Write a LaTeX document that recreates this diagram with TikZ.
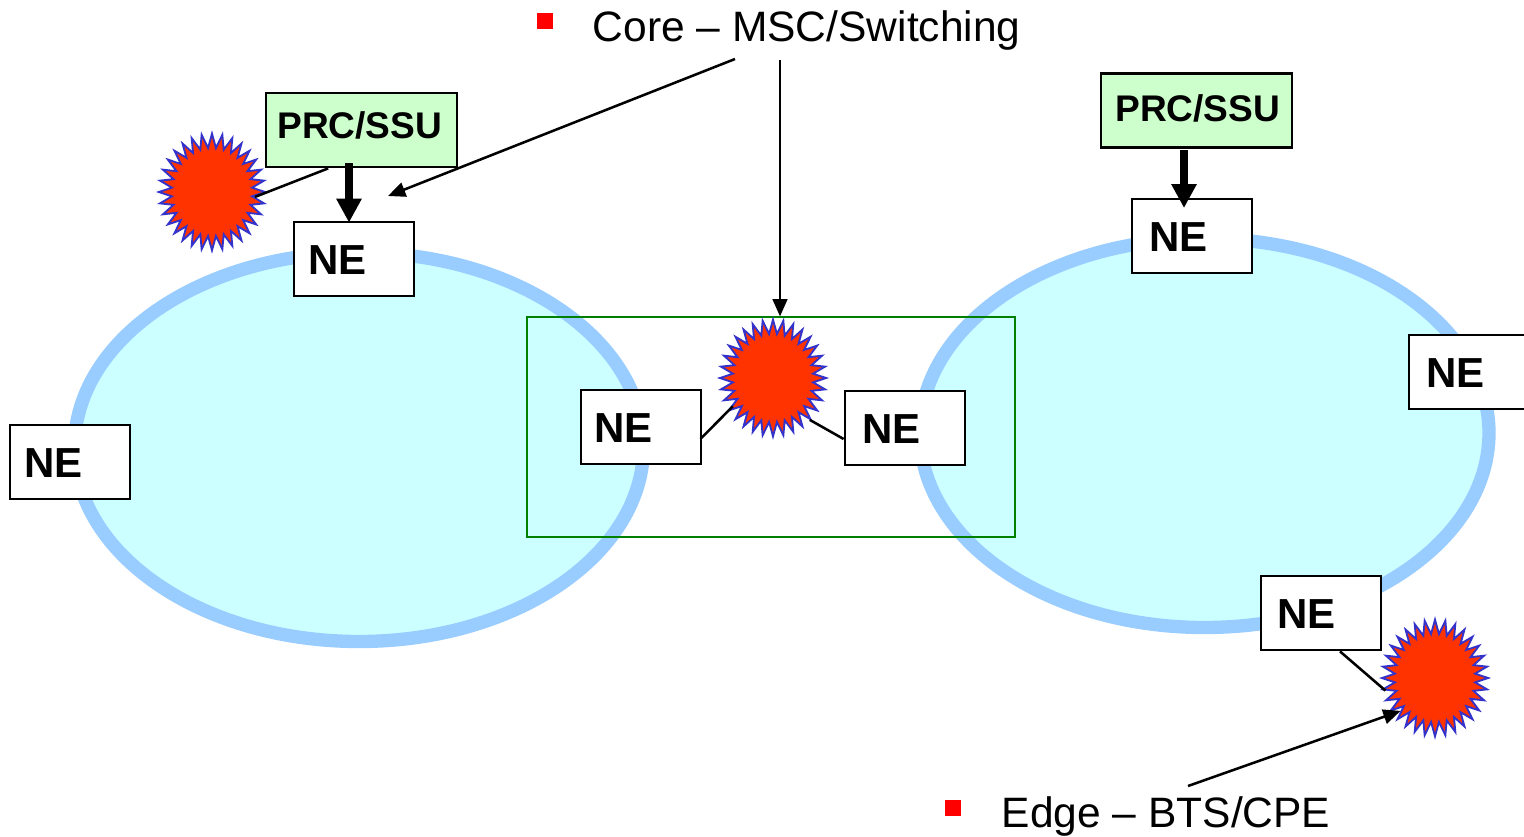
\documentclass[tikz,border=0pt]{standalone}
\usepackage{fontspec}
\setmainfont{Liberation Sans}
\usetikzlibrary{arrows.meta,shapes.geometric}
\definecolor{ringline}{HTML}{99CCFF}
\definecolor{ringfill}{HTML}{CCFFFF}
\definecolor{prcfill}{HTML}{CCFFCC}
\definecolor{burstfill}{HTML}{FF3300}
\definecolor{burstline}{HTML}{3333CC}
\definecolor{corebox}{HTML}{008000}
\begin{document}
\begin{tikzpicture}[x=0.75pt, y=-0.75pt,
    ring/.style={draw=ringline, fill=ringfill, line width=10pt},
    nebox/.style={draw, fill=white, line width=2.1pt, minimum width=90pt, minimum height=55.5pt, inner xsep=10.5pt, inner ysep=0pt, text width=69pt, text height=26pt, text depth=3.4pt, align=left, font=\fontsize{31.5pt}{36pt}\selectfont\bfseries},
    prcbox/.style={nebox, fill=prcfill, minimum width=143.25pt, inner xsep=8.5pt, text width=126.25pt, text height=20pt, font=\fontsize{27.8pt}{33pt}\selectfont\bfseries},
    burst/.style={star, star points=32, star point ratio=1.32, draw=burstline, fill=burstfill, line width=1.4pt, miter limit=10, inner sep=0pt, minimum size=87.5pt, xscale=.91, transform shape},
    bullet/.style={fill=red, inner sep=0pt, minimum size=12pt},
    caption/.style={anchor=base west, inner sep=0pt, font=\fontsize{31.9pt}{38pt}\selectfont},
    thin line/.style={line width=1.9pt},
    thin arrow/.style={line width=1.9pt, -{Triangle[length=13pt, width=11pt]}},
    fat arrow/.style={line width=5.5pt, -{Triangle[length=18pt, width=18pt]}}]
  \useasboundingbox (0, 0) rectangle (1524, 836);

  % Anillos
  \draw[ring] (359, 447) ellipse [x radius=284.5, y radius=194.5];
  \draw[ring] (1204.5, 433) ellipse [x radius=284.5, y radius=194.5];

  % Recuadro del nucleo
  \draw[corebox, line width=1.9pt] (527, 317) rectangle (1015, 537);

  % Cajas NE
  \foreach \name/\x/\y/\gap in {neA/354/259/0, neB/70/462/0, neC/641/427/-0.75, neD/905/428/2.25, neE/1192/236/2.25, neF/1469/372/2.25, neG/1321/613/1.5} {
      \node (\name) at (\x, \y) [nebox] {\hspace*{\gap pt}NE};
    }

  % Cajas PRC/SSU
  \node (prcA) at (361.5, 130) [prcbox, text depth=7.7pt] {PRC/SSU};
  \node (prcB) at (1196.5, 110.5) [prcbox, text depth=4pt] {\hspace*{2.25pt}PRC/SSU};

  % Estrellas
  \node (burstA) at (212, 192) [burst] {};
  \node (burstB) at (773, 378) [burst] {};
  \node (burstC) at (1435, 678) [burst] {};

  % Textos
  \node (bulletCore) at (545, 21) [bullet] {};
  \node (textCore) at (592.5, 41) [caption] {Core – MSC/Switching};
  \node (bulletEdge) at (953, 808) [bullet] {};
  \node (textEdge) at (1001.5, 827) [caption] {Edge – BTS/CPE};

  % Puntos libres
  \coordinate (coreLeft) at (735, 59);
  \coordinate (coreDown) at (780, 60);
  \coordinate (coreAim) at (388, 196);
  \coordinate (edgeTail) at (1188, 786);
  \coordinate (fatA) at (349, 163);
  \coordinate (fatB) at (1184, 150);
  \coordinate (fatBtip) at (1184, 208);

  % Flechas gruesas
  \draw[fat arrow, shorten >=-1.5pt] (fatA) -- (fatA |- neA.north);
  \draw[fat arrow] (fatB) -- (fatBtip);

  % Lineas
  \draw[thin line] (burstA.-6) -- ([xshift=-25pt]prcA.south);
  \draw[thin line, shorten >=-6pt] ([xshift=-1.5pt]neC.east |- 0, 439) -- (burstB.214);
  \draw[thin line] (neD.west |- 0, 439) -- (burstB.-46);
  \draw[thin line] ([xshift=14.25pt]neG.south) -- (burstC.193);

  % Flechas finas
  \draw[thin arrow] (coreLeft) -- (coreAim);
  \draw[thin arrow] (coreDown) -- (coreDown |- burstB.north);
  \draw[thin arrow] (edgeTail) -- (burstC.221);
\end{tikzpicture}
\end{document}
